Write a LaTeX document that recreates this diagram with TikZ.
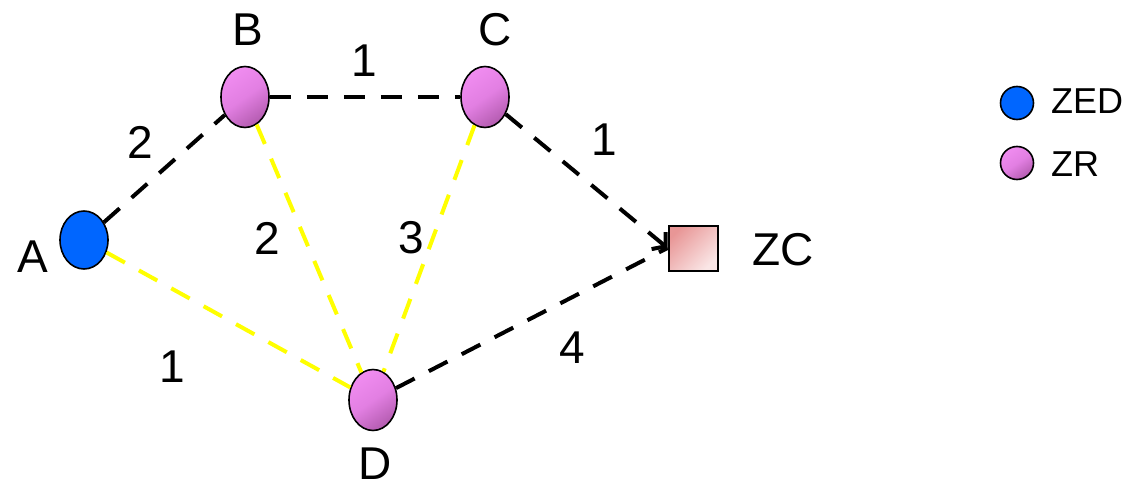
\documentclass[tikz,border=0pt]{standalone}
\usepackage{fontspec}
\setmainfont{Liberation Sans}
\usetikzlibrary{arrows.meta,shapes.geometric}
\definecolor{pinkL}{HTML}{F08CF0}
\definecolor{pinkM}{HTML}{E27FE2}
\definecolor{pinkD}{HTML}{B45CB0}
\definecolor{sqL}{HTML}{E89696}
\definecolor{sqD}{HTML}{FAE6E6}
\definecolor{zedblue}{HTML}{0066FF}
\definecolor{dyellow}{HTML}{FFFF00}
\tikzset{
  zr/.style={ellipse, draw=black, line width=1.6pt, inner sep=0pt,
    minimum width=48pt, minimum height=61pt,
    top color=pinkL, bottom color=pinkD, middle color=pinkM, shading angle=35},
  zed/.style={ellipse, draw=black, line width=1.6pt, inner sep=0pt,
    minimum width=48pt, minimum height=58pt, fill=zedblue},
  zcbox/.style={rectangle, draw=black, line width=2pt, inner sep=0pt,
    minimum width=49pt, minimum height=45pt,
    top color=sqL, bottom color=sqD, shading angle=45},
  blackedge/.style={draw=black, line width=4pt, dash pattern=on 21pt off 16pt},
  yellowedge/.style={draw=dyellow, line width=4pt, dash pattern=on 21pt off 16pt},
  lbl/.style={font=\fontsize{46}{48}\selectfont, inner sep=0pt},
  leg/.style={font=\fontsize{36}{38}\selectfont, inner sep=0pt, anchor=west},
}
\begin{document}
\begin{tikzpicture}[x=1pt,y=-1pt]
\useasboundingbox (0,0) rectangle (1129,489);
% nodes
\node[zed] (A) at (84,240) {};
\node[zr] (B) at (245,97) {};
\node[zr] (C) at (485,97) {};
\node[zr] (D) at (373,400) {};
\node[zcbox] (ZC) at (693,248) {};
% edges
\draw[yellowedge] (A) -- (D);
\draw[yellowedge] (B) -- (D);
\draw[yellowedge] (C) -- (D);
\draw[blackedge] (A) -- (B);
\draw[blackedge] (B) -- (C);
\draw[blackedge, -{Straight Barb[length=9pt,width=22pt,line width=4pt]}] (C) -- (ZC.west);
\draw[blackedge] (D) -- (ZC.west);
% node labels
\node[lbl] (lA) at (33,257) {A};
\node[lbl] (lB) at (248,30) {B};
\node[lbl] (lC) at (495,30) {C};
\node[lbl] (lD) at (375,464) {D};
\node[lbl] (lZC) at (783,250) {ZC};
% edge labels
\node[lbl] (wAB) at (140,142) {2};
\node[lbl] (wBC) at (364,61) {1};
\node[lbl] (wCZ) at (604,140) {1};
\node[lbl] (wBD) at (267,238) {2};
\node[lbl] (wCD) at (411,238) {3};
\node[lbl] (wAD) at (172,367) {1};
\node[lbl] (wDZ) at (572,348) {4};
% legend
\node[circle, draw=black, line width=1.6pt, fill=zedblue, minimum size=33pt, inner sep=0pt] (k1) at (1017,103) {};
\node[leg] (k1t) at (1051,101) {ZED};
\node[circle, draw=black, line width=1.6pt, top color=pinkL, bottom color=pinkD, middle color=pinkM, shading angle=35, minimum size=33pt, inner sep=0pt] (k2) at (1017,163) {};
\node[leg] (k2t) at (1051,164) {ZR};
\end{tikzpicture}
\end{document}
